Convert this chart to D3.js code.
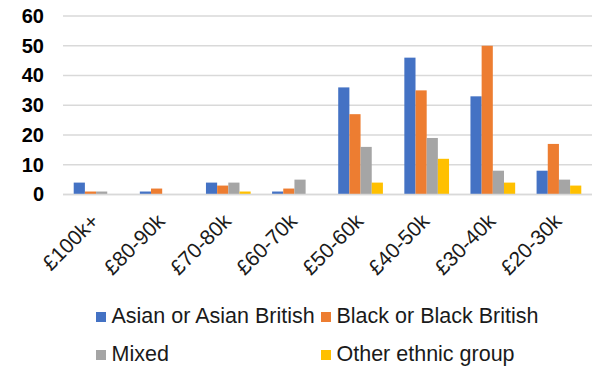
<!DOCTYPE html>
<html>
<head>
<meta charset="utf-8">
<script src="https://cdn.jsdelivr.net/npm/d3@7/dist/d3.min.js"></script>
<style>
  html, body { margin: 0; padding: 0; background: #fff; }
  svg { display: block; font-family: "Liberation Sans", Arial, sans-serif; }
</style>
</head>
<body>
<svg id="chart" width="603" height="368"></svg>
<script>
// Salary bands and counts per ethnic group
const categories = ["£100k+", "£80-90k", "£70-80k", "£60-70k", "£50-60k", "£40-50k", "£30-40k", "£20-30k"];
const seriesNames = ["Asian or Asian British", "Black or Black British", "Mixed", "Other ethnic group"];
const asian  = [4, 1, 4, 1, 36, 46, 33, 8];
const black  = [1, 2, 3, 2, 27, 35, 50, 17];
const mixed  = [1, 0, 4, 5, 16, 19, 8, 5];
const other  = [0, 0, 1, 0, 4, 12, 4, 3];
const yTicks = [0, 10, 20, 30, 40, 50, 60];
const colors = ["#4472C4", "#ED7D31", "#A5A5A5", "#FFC000"];

const seriesValues = [asian, black, mixed, other];
const rows = categories.map((c, i) => ({
  cat: c,
  values: seriesNames.map((s, j) => ({ series: s, value: seriesValues[j][i] }))
}));

const svg = d3.select("#chart");
const plot = { left: 63, right: 592, top: 16, bottom: 194.5 };

const x0 = d3.scaleBand().domain(categories).range([plot.left, plot.right])
  .paddingInner(0.324).paddingOuter(0.162);
const x1 = d3.scaleBand().domain(seriesNames).range([0, x0.bandwidth()]);
const y = d3.scaleLinear().domain([0, 60]).range([plot.bottom, plot.top]);
const color = d3.scaleOrdinal().domain(seriesNames).range(colors);

// Horizontal gridlines
svg.append("g")
  .selectAll("line")
  .data(yTicks)
  .join("line")
  .attr("x1", plot.left).attr("x2", plot.right)
  .attr("y1", d => y(d)).attr("y2", d => y(d))
  .attr("stroke", "#d9d9d9")
  .attr("stroke-width", 1.4);

// Y axis labels
const yAxis = svg.append("g")
  .attr("transform", `translate(${plot.left},0)`)
  .call(d3.axisLeft(y).tickValues(yTicks).tickSize(0).tickPadding(19));
yAxis.select(".domain").remove();
yAxis.selectAll("text")
  .attr("font-size", 20)
  .attr("font-weight", "bold")
  .attr("fill", "#000")
  .attr("font-family", "Liberation Sans, Arial, sans-serif");

// Bars
svg.append("g")
  .selectAll("g")
  .data(rows)
  .join("g")
  .attr("transform", d => `translate(${x0(d.cat)},0)`)
  .selectAll("rect")
  .data(d => d.values)
  .join("rect")
  .attr("x", d => x1(d.series))
  .attr("width", x1.bandwidth())
  .attr("y", d => y(d.value))
  .attr("height", d => y(0) - y(d.value))
  .attr("fill", d => color(d.series));

// Baseline
svg.append("line")
  .attr("x1", plot.left).attr("x2", plot.right)
  .attr("y1", y(0)).attr("y2", y(0))
  .attr("stroke", "#d9d9d9")
  .attr("stroke-width", 1.6);

// Rotated category labels
const xAxis = svg.append("g")
  .attr("transform", `translate(0,${plot.bottom})`)
  .call(d3.axisBottom(x0).tickSize(0).tickPadding(0));
xAxis.select(".domain").remove();
xAxis.selectAll("text")
  .attr("font-size", 21)
  .attr("fill", "#1a1a1a")
  .attr("font-family", "Liberation Sans, Arial, sans-serif")
  .attr("text-anchor", "end")
  .attr("dy", 0)
  .attr("y", 0)
  .attr("transform", "translate(4,28) rotate(-45)");

// Legend: two rows, two columns
const legendPos = [
  { x: 96, y: 312 }, { x: 321, y: 312 },
  { x: 96, y: 350 }, { x: 321, y: 350 }
];
const legend = svg.append("g")
  .selectAll("g")
  .data(seriesNames)
  .join("g")
  .attr("transform", (d, i) => `translate(${legendPos[i].x},${legendPos[i].y})`);
legend.append("rect")
  .attr("width", 10).attr("height", 10)
  .attr("fill", d => color(d));
legend.append("text")
  .attr("x", 15.5).attr("y", 11)
  .attr("font-size", 21.5)
  .attr("fill", "#1a1a1a")
  .text(d => d);
</script>
</body>
</html>
